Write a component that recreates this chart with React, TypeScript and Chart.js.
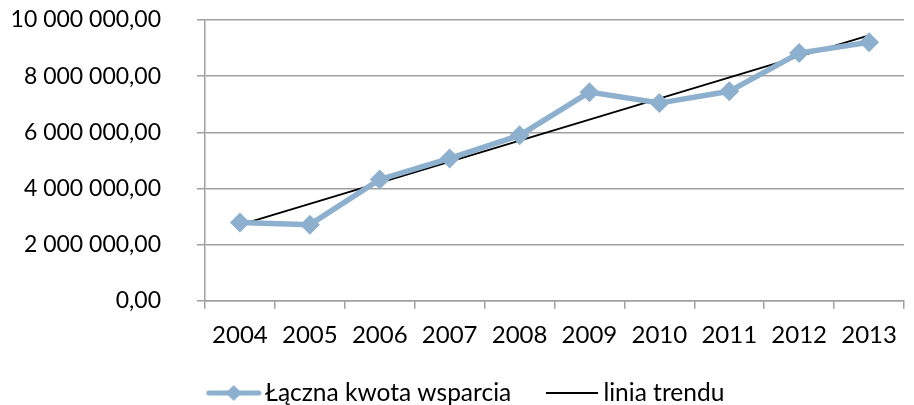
import React, { useEffect, useRef } from "react";
import { Chart, registerables } from "chart.js";

Chart.register(...registerables);

const years = ["2004", "2005", "2006", "2007", "2008", "2009", "2010", "2011", "2012", "2013"];
const support = [2790000, 2710000, 4320000, 5070000, 5890000, 7430000, 7040000, 7460000, 8820000, 9210000];
const trend = [2700000, null, null, null, null, null, null, null, null, 9450000];
const yTicks = [0, 2000000, 4000000, 6000000, 8000000, 10000000];

const SERIES_COLOR = "#8EB0CF";
const GRID_COLOR = "#A0A0A0";
const FONT = "Lato, 'Open Sans', sans-serif";
const LEGEND_FONT = 24.5;
const LEGEND_PAD = 42;

function formatPl(v: number): string {
  const [intPart, dec] = v.toFixed(2).split(".");
  return intPart.replace(/\B(?=(\d{3})+(?!\d))/g, " ") + "," + dec;
}

function makeSwatch(withDiamond: boolean, color: string, width: number, lw: number) {
  const c = document.createElement("canvas");
  c.width = width;
  c.height = 18;
  const ctx = c.getContext("2d")!;
  ctx.strokeStyle = color;
  ctx.lineWidth = lw;
  ctx.lineCap = withDiamond ? "round" : "butt";
  ctx.beginPath();
  ctx.moveTo(withDiamond ? 3 : 0, 9);
  ctx.lineTo(width - (withDiamond ? 3 : 0), 9);
  ctx.stroke();
  if (withDiamond) {
    ctx.fillStyle = color;
    ctx.beginPath();
    const cx = width / 2;
    ctx.moveTo(cx, 1);
    ctx.lineTo(cx + 8, 9);
    ctx.lineTo(cx, 17);
    ctx.lineTo(cx - 8, 9);
    ctx.closePath();
    ctx.fill();
  }
  return c;
}

// Nudges the legend box to sit where the reference places it.
const legendShift = {
  id: "legendShift",
  afterLayout(chart: any) {
    const lg = chart.legend;
    if (lg) {
      lg.left += 17;
      lg.right += 17;
      lg.top = 393 - LEGEND_PAD - LEGEND_FONT / 2;
      lg.bottom = chart.height;
      lg.height = lg.bottom - lg.top;
    }
  },
};

export default function App() {
  const ref = useRef<HTMLCanvasElement>(null);

  useEffect(() => {
    document.body.style.margin = "0";
    const swatchA = makeSwatch(true, SERIES_COLOR, 56, 5);
    const swatchB = makeSwatch(false, "#000000", 52, 1.8);
    const chart = new Chart(ref.current!, {
      type: "line",
      data: {
        labels: years,
        datasets: [
          {
            label: "Łączna kwota wsparcia",
            data: support,
            borderColor: SERIES_COLOR,
            backgroundColor: SERIES_COLOR,
            borderWidth: 5.5,
            pointStyle: "rectRot",
            pointRadius: 10,
            pointHoverRadius: 10,
            pointBackgroundColor: SERIES_COLOR,
            pointBorderWidth: 0,
            tension: 0,
          },
          {
            label: "linia trendu",
            data: trend,
            borderColor: "#000000",
            backgroundColor: "#000000",
            borderWidth: 1.8,
            pointRadius: 0,
            spanGaps: true,
          },
        ],
      },
      plugins: [legendShift],
      options: {
        animation: false,
        responsive: false,
        layout: { padding: { top: 20, right: 9, left: 0, bottom: 0 } },
        plugins: {
          tooltip: { enabled: false },
          legend: {
            position: "bottom",
            maxHeight: 42.5,
            labels: {
              usePointStyle: true,
              font: { family: FONT, size: LEGEND_FONT },
              color: "#000",
              padding: LEGEND_PAD,
              pointStyleWidth: 38,
              generateLabels: () => [
                {
                  text: "Łączna kwota wsparcia",
                  pointStyle: swatchA,
                  datasetIndex: 0,
                  fillStyle: SERIES_COLOR,
                  strokeStyle: SERIES_COLOR,
                  lineWidth: 0,
                  hidden: false,
                },
                {
                  text: "linia trendu",
                  pointStyle: swatchB,
                  datasetIndex: 1,
                  fillStyle: "#000",
                  strokeStyle: "#000",
                  lineWidth: 0,
                  hidden: false,
                },
              ],
            },
          },
        },
        scales: {
          x: {
            type: "category",
            offset: true,
            grid: {
              offset: true,
              drawOnChartArea: false,
              drawTicks: true,
              tickLength: 8,
              color: GRID_COLOR,
              lineWidth: 1.5,
            },
            border: { color: GRID_COLOR, width: 1.5 },
            ticks: {
              color: "#000",
              font: { family: FONT, size: 24 },
              padding: 12.5,
              maxRotation: 0,
            },
          },
          y: {
            min: 0,
            max: 10000000,
            afterBuildTicks: (axis: any) => {
              axis.ticks = yTicks.map((v) => ({ value: v }));
            },
            afterFit: (axis: any) => {
              axis.width = 205;
              axis.paddingTop = 0;
              axis.paddingBottom = 0;
            },
            grid: {
              color: GRID_COLOR,
              lineWidth: 1.5,
              tickLength: 8,
            },
            border: { color: GRID_COLOR, width: 1.5 },
            ticks: {
              color: "#000",
              font: { family: FONT, size: 23 },
              padding: 36,
              callback: (v: any) => formatPl(Number(v)),
            },
          },
        },
      },
    });
    return () => chart.destroy();
  }, []);

  return (
    <div style={{ width: 914, height: 405 }}>
      <canvas ref={ref} width={914} height={405} style={{ display: "block" }} />
    </div>
  );
}
